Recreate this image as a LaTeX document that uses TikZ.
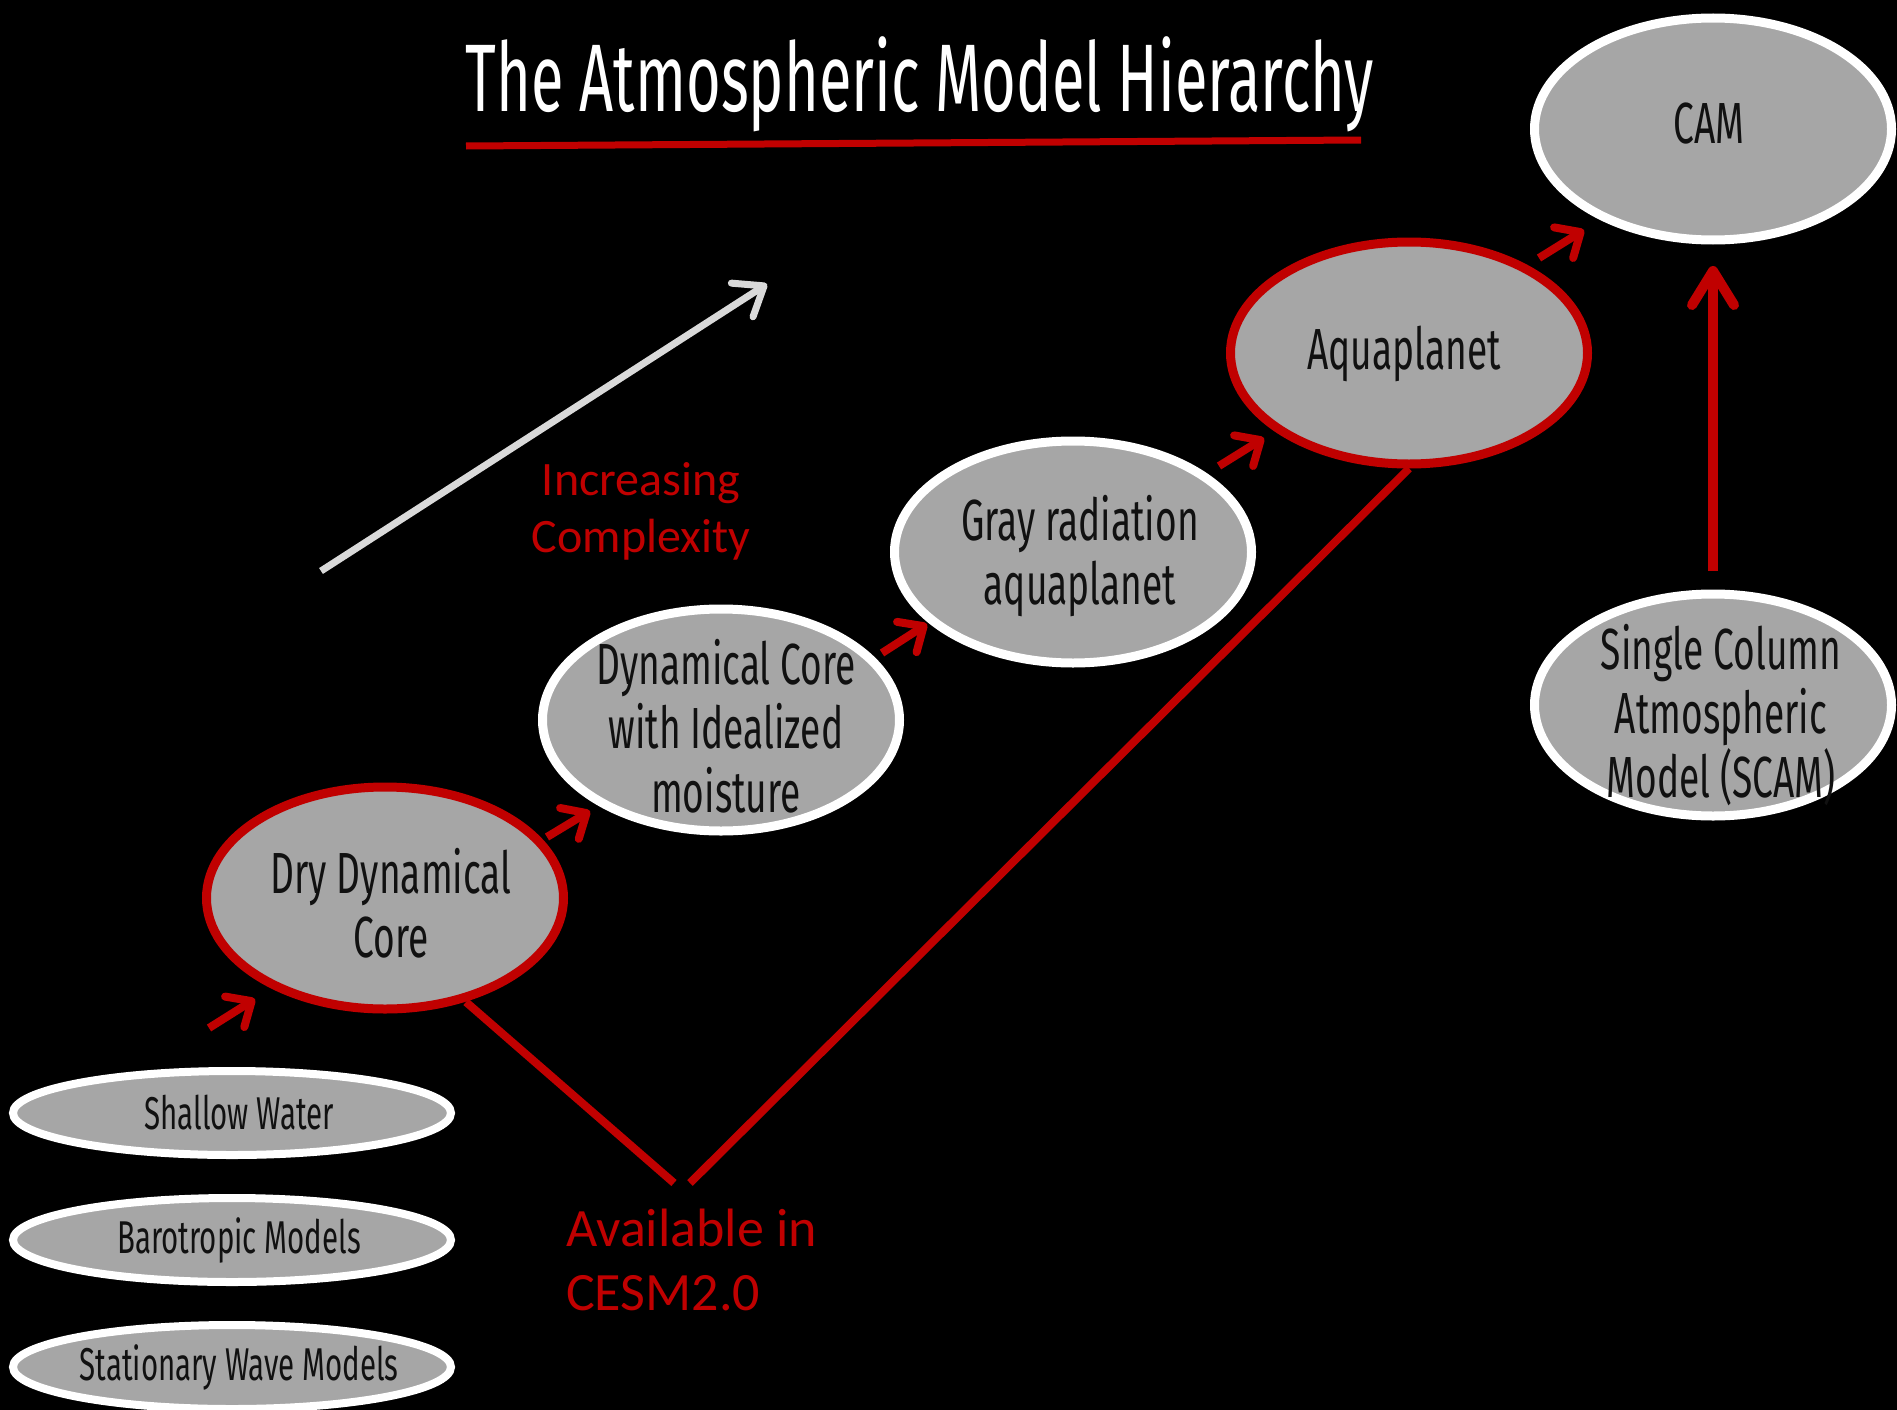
\documentclass[tikz,border=0pt]{standalone}
\usepackage{fontspec}
\usetikzlibrary{shapes.geometric,arrows.meta}
\newfontfamily\narrowfont[FakeStretch=0.64]{Fira Sans}
\newfontfamily\titlefont[FakeStretch=0.62]{Fira Sans}
\newfontfamily\bodyfont{Carlito}
\definecolor{hred}{HTML}{C00000}
\definecolor{hgray}{HTML}{A6A6A6}
\definecolor{htext}{HTML}{111111}
\definecolor{hlight}{HTML}{D9D9D9}
\tikzset{
  model/.style={ellipse, fill=hgray, line width=9pt, inner sep=0pt,
    minimum width=357pt, minimum height=222pt},
  modelw/.style={model, draw=white},
  modelr/.style={model, draw=hred},
  modeltext/.style={align=center, inner sep=0pt, text=htext,
    font=\narrowfont\fontsize{58}{64}\selectfont},
  simple/.style={ellipse, fill=hgray, draw=white, line width=8pt,
    minimum width=438pt, minimum height=84pt},
  simpletext/.style={inner sep=0pt, text=htext, xshift=7pt,
    font=\narrowfont\fontsize{46}{50}\selectfont},
  stepto/.style={draw=hred, line width=8pt,
    -{Straight Barb[length=20pt, width=36pt, line cap=round, line join=round]}},
  note/.style={text=hred, align=left, inner sep=0pt}
}
\begin{document}
\begin{tikzpicture}[x=1pt, y=-1pt]
  \fill[black] (0,0) rectangle (1897,1410);
  \useasboundingbox (0,0) rectangle (1897,1410);

  % heading
  \node[text=white, inner sep=0pt, font=\titlefont\fontsize{96}{100}\selectfont]
    (title) at (920,84) {The Atmospheric Model Hierarchy};
  \coordinate (ulA) at (466,146);
  \coordinate (ulB) at (1361,140);
  \draw[hred, line width=7pt] (ulA) -- (ulB);

  % models along the hierarchy
  \node[modelr, label={[modeltext, xshift=6pt, yshift=-5pt]center:{Dry Dynamical\\Core}}]
    (dry) at (385,898) {};
  \node[modelw, label={[modeltext, xshift=5pt, yshift=-6pt]center:{Dynamical Core\\with Idealized\\moisture}}]
    (moist) at (721,720) {};
  \node[modelw, label={[modeltext, xshift=7pt, yshift=-4pt]center:{Gray radiation\\aquaplanet}}]
    (gray) at (1073,552) {};
  \node[modelr, label={[modeltext, xshift=-5pt, yshift=-1pt]center:{Aquaplanet}}]
    (aqua) at (1409,353) {};
  \node[modelw, label={[modeltext, xshift=-4pt, yshift=5pt]center:{CAM}}]
    (cam) at (1713,129) {};
  \node[modelw, label={[modeltext, xshift=8pt, yshift=-10pt]center:{Single Column\\Atmospheric\\Model (SCAM)}}]
    (scam) at (1713,705) {};

  % simpler models
  \node[simple, label={[simpletext]center:Shallow Water}] (sw) at (232,1113) {};
  \node[simple, label={[simpletext]center:Barotropic Models}] (baro) at (232,1240) {};
  \node[simple, label={[simpletext]center:Stationary Wave Models}] (stat) at (232,1367) {};

  % step arrows
  \coordinate (a1s) at (209,1028); \coordinate (a1e) at (255,999);
  \coordinate (a2s) at (547,837);  \coordinate (a2e) at (590,811);
  \coordinate (a3s) at (882,653);  \coordinate (a3e) at (927,624);
  \coordinate (a4s) at (1219,466); \coordinate (a4e) at (1264,438);
  \coordinate (a5s) at (1539,258); \coordinate (a5e) at (1584,230);
  \draw[stepto] (a1s) -- (a1e);
  \draw[stepto] (a2s) -- (a2e);
  \draw[stepto] (a3s) -- (a3e);
  \draw[stepto] (a4s) -- (a4e);
  \draw[stepto] (a5s) -- (a5e);
  \coordinate (scamtop) at (1713,571);
  \coordinate (camlow) at (1713,266);
  \draw[draw=hred, line width=10pt,
    -{Straight Barb[length=34pt, width=42pt, line cap=round, line join=round]}]
    (scamtop) -- (camlow);

  % complexity arrow
  \coordinate (cxs) at (321,571);
  \coordinate (cxe) at (767,284);
  \draw[draw=hlight, line width=7pt,
    -{Straight Barb[length=26pt, width=40pt, line cap=round, line join=round]}]
    (cxs) -- (cxe);
  \node[note, align=center, font=\bodyfont\fontsize{48}{57}\selectfont]
    (incr) at (641,511) {Increasing\\Complexity};

  % CESM2.0 availability
  \coordinate (vl) at (674,1183);
  \coordinate (vr) at (690,1183);
  \draw[hred, line width=8pt] (466,1002) -- (vl);
  \draw[hred, line width=8pt] (vr) -- (aqua.south);
  \node[note, anchor=north west, font=\bodyfont\fontsize{54}{64}\selectfont]
    (avail) at (566,1209) {Available in\\CESM2.0};
\end{tikzpicture}
\end{document}
